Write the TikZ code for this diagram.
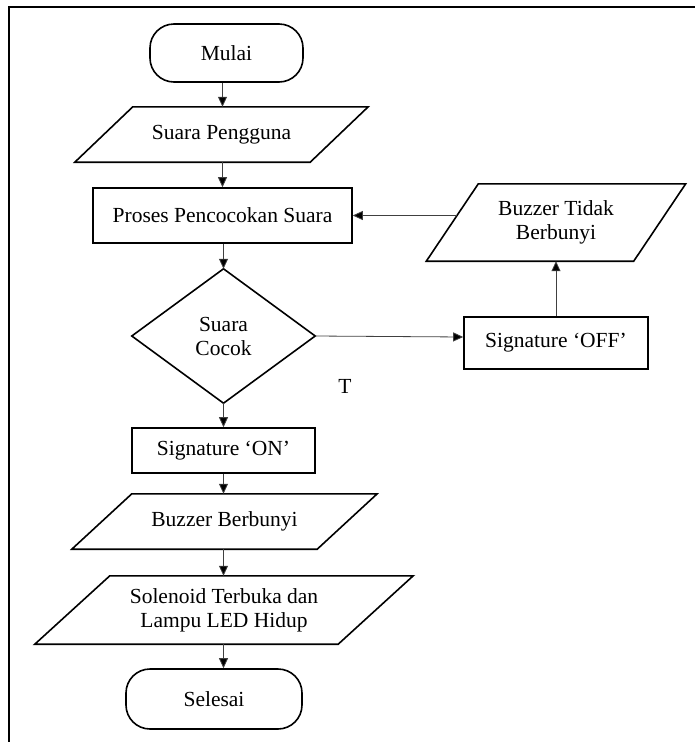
\documentclass[tikz,border=0pt]{standalone}
\usepackage{fontspec}
\setmainfont{Liberation Serif}
\usetikzlibrary{arrows.meta,calc}
\begin{document}
\begin{tikzpicture}[x=1pt,y=-1pt,
  every node/.style={font=\fontsize{21.5}{24}\selectfont, align=center, inner sep=0pt},
  box/.style={draw=black, line width=1.6pt},
  term/.style={draw=black, line width=1.6pt, rounded corners=24pt},
  outl/.style={draw=black, line width=1.6pt, line join=miter},
  arr/.style={draw=black!75, line width=0.8pt, -{Triangle[length=10pt,width=9pt,fill=black]}},
  frame/.style={draw=black, line width=1.8pt}
]
\useasboundingbox (0,0) rectangle (695,742);
% frame
\coordinate (ftl) at (9,7);
\coordinate (fbl) at (9,742);
\coordinate (ftr) at (695,7);
\draw[frame] (fbl) -- (ftl) -- (ftr);

% main column
\node[term, minimum width=153pt, minimum height=58pt] (mulai) at (226.5,53) {Mulai};
\node[minimum width=235pt, minimum height=55pt] (sp) at (221.5,134.5) {Suara Pengguna};
\draw[outl] ($(sp.north west)+(29,0)$) -- ($(sp.north east)+(29,0)$) -- ($(sp.south east)+(-29,0)$) -- ($(sp.south west)+(-29,0)$) -- cycle;
\node[box, minimum width=259pt, minimum height=55pt] (pr) at (222.5,215.5) {Proses Pencocokan Suara};
\node[minimum width=183pt, minimum height=134pt] (dec) at (223.5,336) {Suara\\Cocok};
\draw[outl] (dec.north) -- (dec.east) -- (dec.south) -- (dec.west) -- cycle;
\node[box, minimum width=183pt, minimum height=45pt] (son) at (223.5,450.5) {Signature ‘ON’};
\node[minimum width=245pt, minimum height=55pt] (bb) at (224.5,521.5) {Buzzer Berbunyi};
\draw[outl] ($(bb.north west)+(30,0)$) -- ($(bb.north east)+(30,0)$) -- ($(bb.south east)+(-30,0)$) -- ($(bb.south west)+(-30,0)$) -- cycle;
\node[minimum width=303pt, minimum height=68pt] (sol) at (224,610) {Solenoid Terbuka dan\\Lampu LED Hidup};
\draw[outl] ($(sol.north west)+(37.5,0)$) -- ($(sol.north east)+(37.5,0)$) -- ($(sol.south east)+(-37.5,0)$) -- ($(sol.south west)+(-37.5,0)$) -- cycle;
\node[term, minimum width=176pt, minimum height=60pt] (sel) at (214,699) {Selesai};

% right column
\node[minimum width=207pt, minimum height=77pt] (bt) at (556,222.5) {Buzzer Tidak\\Berbunyi};
\draw[outl] ($(bt.north west)+(26,0)$) -- ($(bt.north east)+(26,0)$) -- ($(bt.south east)+(-26,0)$) -- ($(bt.south west)+(-26,0)$) -- cycle;
\node[box, minimum width=184pt, minimum height=52pt] (soff) at (556,343) {Signature ‘OFF’};

\node (tlab) at (345,386) {T};

% connectors
\draw[arr] (mulai.south -| pr.center) -- (sp.north -| pr.center);
\draw[arr] (sp.south -| pr.center) -- (pr.north);
\draw[arr] (pr.south -| dec.north) -- (dec.north);
\draw[arr] (dec.south) -- (son.north);
\draw[arr] (son.south) -- (bb.north -| son.south);
\draw[arr] (bb.south -| son.south) -- (sol.north -| son.south);
\draw[arr] (sol.south -| son.south) -- (sel.north -| son.south);
\draw[arr] (dec.east) -- ($(soff.west)+(0,-6)$);
\draw[arr] (soff.north) -- (bt.south);
\coordinate (bts) at ($(bt.west)+(4.5,-7)$);
\draw[arr] (bts) -- (bts -| pr.east);
\end{tikzpicture}
\end{document}
